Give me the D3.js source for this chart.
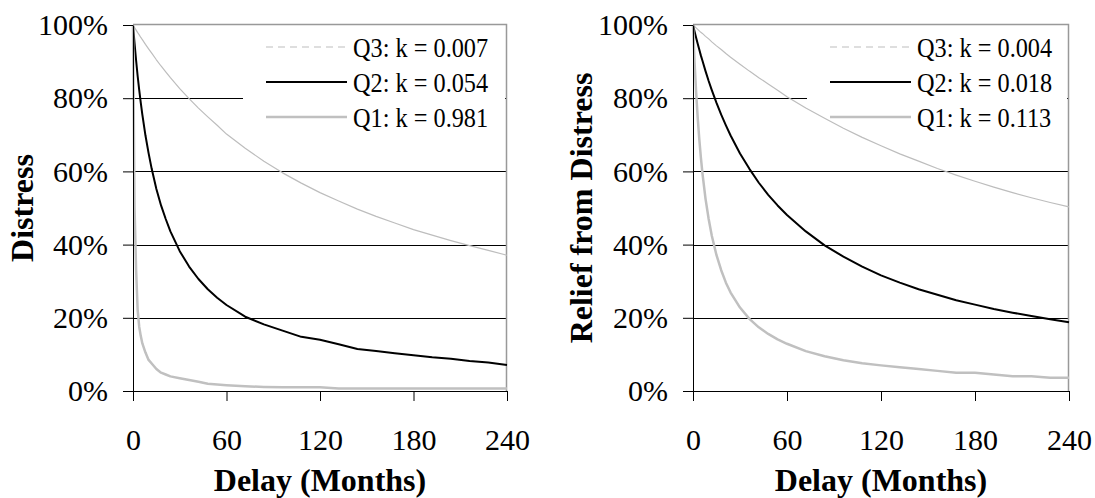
<!DOCTYPE html>
<html>
<head>
<meta charset="utf-8">
<script src="https://cdn.jsdelivr.net/npm/d3@7/dist/d3.min.js"></script>
<style>
  body { margin: 0; background: #fff; }
  text { font-family: "Liberation Serif", "Times New Roman", serif; fill: #000; }
</style>
</head>
<body>
<script>
// delay in months where the curves were read
var delays = [0,1,2,3,4,5,6,8,10,12,15,18,21,24,30,36,42,48,54,60,72,84,96,108,120,132,144,156,168,180,192,204,216,228,240];

// left panel: Distress (%)
var distressQ3 = [100,99.3,98.6,97.9,97.3,96.6,96,94.7,93.5,92.3,90.5,88.8,87.2,85.6,82.6,79.9,77.3,74.9,72.6,70.2,66.3,62.8,59.6,56.8,54.2,51.9,49.7,47.7,45.9,44.1,42.6,41.1,39.7,38.4,37.1];
var distressQ2 = [100,95,90.3,86,82.2,78.7,75.5,69.8,65,60.7,55.2,50.7,47,43.6,38.2,34,30.6,27.8,25.5,23.5,20.3,18.2,16.5,14.8,14,12.8,11.5,10.9,10.3,9.8,9.2,8.8,8.2,7.8,7.1];
var distressQ1 = [100,50,33,22,17.5,15,13,10.5,8.5,7.5,6,5,4.5,4,3.5,3,2.5,2,1.8,1.6,1.3,1.1,1,1,1,0.7,0.7,0.7,0.7,0.7,0.7,0.7,0.7,0.7,0.7];

// right panel: Relief from Distress (%)
var reliefQ3 = [100,99.6,99.2,98.8,98.4,98,97.7,96.9,96.2,95.4,94.3,93.3,92.2,91.2,89.3,87.4,85.6,83.9,82.2,80.4,77.3,74.5,71.8,69.3,67,64.8,62.8,60.8,59,57.3,55.7,54.2,52.8,51.5,50.3];
var reliefQ2 = [100,98.2,96.5,94.9,93.3,91.7,90.3,87.4,84.7,82.2,78.7,75.5,72.6,69.8,64.9,60.7,56.9,53.6,50.7,48.1,43.6,39.8,36.7,34,31.6,29.6,27.8,26.3,24.8,23.6,22.4,21.4,20.5,19.6,18.8];
var reliefQ1 = [100,89.8,81.6,74.7,68.9,63.9,59.6,52.5,47,42.4,37.1,33,29.6,26.9,22.8,19.7,17.4,15.6,14.1,12.9,10.9,9.5,8.4,7.6,7,6.5,6,5.5,5,5,4.5,4,4,3.6,3.6];

var seriesNames = ["Q3", "Q2", "Q1"];
var distressK = ["0.007", "0.054", "0.981"];
var reliefK = ["0.004", "0.018", "0.113"];

var xTicks = [0, 60, 120, 180, 240];
var yTicks = [0, 20, 40, 60, 80, 100];
var gridTicks = [20, 40, 60, 80];

var width = 1095, height = 498;
var plotTop = 25, plotBottom = 391;

var styles = [
  {stroke: "#bdbdbd", width: 1.2, dash: "7,5"},
  {stroke: "#000", width: 2, dash: null},
  {stroke: "#c0c0c0", width: 2.5, dash: null}
];

var panels = [
  {left: 133, right: 507, title: "Distress", titleX: 33, series: [distressQ3, distressQ2, distressQ1], ks: distressK, legendX: 243},
  {left: 693, right: 1069, title: "Relief from Distress", titleX: 592, series: [reliefQ3, reliefQ2, reliefQ1], ks: reliefK, legendX: 807}
];

var svg = d3.select("body").append("svg")
    .attr("width", width)
    .attr("height", height);

panels.forEach(function(p){
  var x = d3.scaleLinear().domain([0, 240]).range([p.left, p.right]);
  var y = d3.scaleLinear().domain([0, 100]).range([plotBottom, plotTop]);

  // gridlines, snapped to whole pixels so they stay crisp black
  svg.append("g").selectAll("line")
    .data(gridTicks).enter().append("line")
    .attr("x1", p.left).attr("x2", p.right)
    .attr("y1", function(d){ return Math.round(y(d)) + 0.5; })
    .attr("y2", function(d){ return Math.round(y(d)) + 0.5; })
    .attr("stroke", "#000").attr("stroke-width", 1)
    .attr("shape-rendering", "crispEdges");

  // plot border (top + right)
  svg.append("path")
    .attr("d", "M" + p.left + "," + (y(100) - 0.5) + "H" + (p.right - 0.5) + "V" + y(0))
    .attr("fill", "none").attr("stroke", "#999").attr("stroke-width", 1.5);

  // legend background
  svg.append("rect")
    .attr("x", p.legendX).attr("y", 30)
    .attr("width", p.right - 2 - p.legendX).attr("height", 103)
    .attr("fill", "#fff");

  // curves
  var line = d3.line()
    .x(function(d, i){ return x(delays[i]); })
    .y(function(d){ return y(d); });

  p.series.forEach(function(s, i){
    svg.append("path")
      .datum(s)
      .attr("d", line)
      .attr("fill", "none")
      .attr("stroke", styles[i].stroke)
      .attr("stroke-width", styles[i].width)
      .attr("stroke-linejoin", "round");
  });

  // axes
  var yAxis = svg.append("g")
    .attr("transform", "translate(" + p.left + ",0)")
    .call(d3.axisLeft(y).tickValues(yTicks).tickSize(10).tickSizeOuter(0).tickPadding(15)
      .tickFormat(function(d){ return d + "%"; }));
  var xAxis = svg.append("g")
    .attr("transform", "translate(0," + plotBottom + ")")
    .call(d3.axisBottom(x).tickValues(xTicks).tickSize(10).tickSizeOuter(0).tickPadding(28));

  [yAxis, xAxis].forEach(function(a){
    a.selectAll("text").style("font-size", "30px").style("font-family", "Liberation Serif");
    a.selectAll("line").attr("stroke", "#000");
    a.select(".domain").attr("stroke", "#000");
  });

  // axis titles
  svg.append("text")
    .attr("x", (p.left + p.right) / 2).attr("y", 491)
    .attr("text-anchor", "middle")
    .style("font-size", "32px").style("font-weight", "bold")
    .text("Delay (Months)");

  svg.append("text")
    .attr("transform", "translate(" + p.titleX + "," + ((plotTop + plotBottom) / 2) + ") rotate(-90)")
    .attr("text-anchor", "middle")
    .style("font-size", "32px").style("font-weight", "bold")
    .text(p.title);

  // legend
  var lg = svg.append("g");
  seriesNames.forEach(function(n, i){
    var ly = 47 + i * 35;
    lg.append("line")
      .attr("x1", p.legendX + 23).attr("x2", p.legendX + 104)
      .attr("y1", ly).attr("y2", ly)
      .attr("stroke", styles[i].stroke)
      .attr("stroke-width", styles[i].width)
      .attr("stroke-dasharray", styles[i].dash);
    lg.append("text")
      .attr("transform", "translate(" + (p.legendX + 110) + "," + (ly + 9.5) + ") scale(0.9,1)")
      .style("font-size", "27px")
      .text(n + ": k = " + p.ks[i]);
  });
});
</script>
</body>
</html>
